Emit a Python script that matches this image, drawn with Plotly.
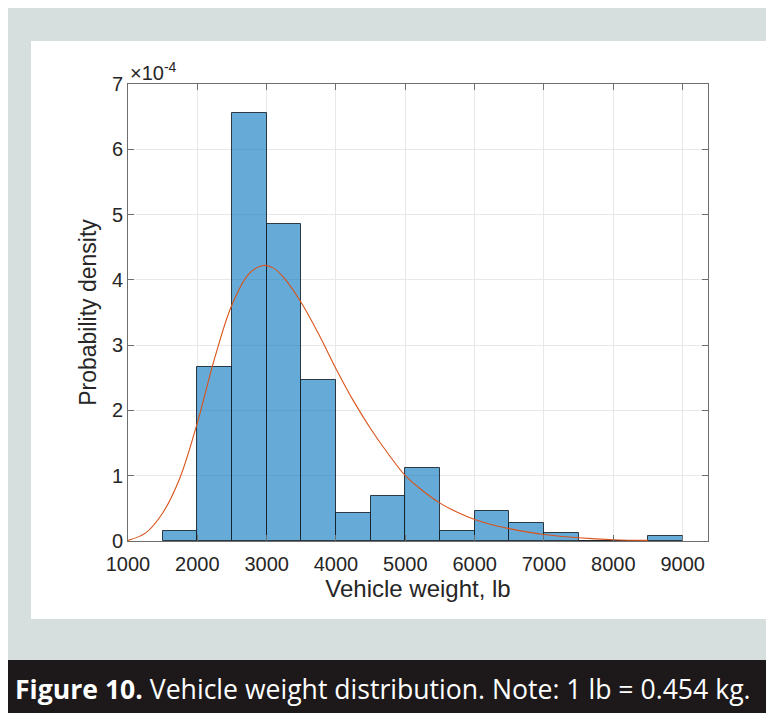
import plotly.graph_objects as go

# ---- data (density values in units of 1e-4) ----
bin_edges_left = [1500, 2000, 2500, 3000, 3500, 4000, 4500, 5000, 5500, 6000, 6500, 7000, 7500, 8000, 8500]
bin_width = 500
density = [0.15, 2.67, 6.56, 4.86, 2.47, 0.43, 0.69, 1.12, 0.15, 0.46, 0.28, 0.12, 0.0, 0.0, 0.07]

fit_x = [1000, 1250, 1500, 1750, 2000, 2250, 2500, 2750, 2950, 3100, 3250, 3500, 3750, 4000,
         4250, 4500, 4750, 5000, 5250, 5500, 5750, 6000, 6250, 6500, 6750, 7000, 7500, 8000, 8500]
fit_y = [0.01, 0.12, 0.43, 0.97, 1.81, 2.80, 3.62, 4.10, 4.22, 4.18, 4.03, 3.65, 3.17, 2.64,
         2.15, 1.72, 1.34, 1.00, 0.77, 0.58, 0.44, 0.33, 0.25, 0.19, 0.14, 0.10, 0.05, 0.02, 0.01]

x_ticks = [1000, 2000, 3000, 4000, 5000, 6000, 7000, 8000, 9000]
y_ticks = [0, 1, 2, 3, 4, 5, 6, 7]

# the page places the figure 8px from the top-left corner
OFF = 8
W, H = 774 - OFF, 713 - OFF
L, R, T, B = 120, 66, 76, 172
pw, ph = W - L - R, H - T - B

def px(x):  # page x -> paper
    return (x - OFF - L) / pw

def py(y):  # page y -> paper
    return (H - B - (y - OFF)) / ph

fig = go.Figure()
fig.add_trace(go.Bar(
    x=[e + bin_width / 2 for e in bin_edges_left], y=density, width=bin_width,
    marker=dict(color="rgba(0,114,189,0.6)", line=dict(color="rgba(20,30,40,0.85)", width=1)),
    showlegend=False, hoverinfo="skip"))
fig.add_trace(go.Scatter(
    x=fit_x, y=fit_y, mode="lines", line=dict(color="#D95319", width=1.1, shape="spline"),
    showlegend=False, hoverinfo="skip"))

tickfont = dict(family="Liberation Sans, Arial", size=20, color="#262626")
fig.update_xaxes(
    range=[1000, 9366], tickvals=x_ticks, ticktext=[str(v) for v in x_ticks],
    showgrid=True, gridcolor="#e8e8e8", gridwidth=1, zeroline=False,
    showline=True, linecolor="#6e6e6e", linewidth=1, mirror="ticks",
    ticks="inside", ticklen=6, tickcolor="#6e6e6e", tickfont=tickfont, ticklabelstandoff=5,
    title=dict(text="Vehicle weight, lb", font=dict(family="Liberation Sans, Arial", size=24, color="#262626"), standoff=3))
fig.update_yaxes(
    range=[0, 7], tickvals=y_ticks, ticktext=[str(v) for v in y_ticks],
    showgrid=True, gridcolor="#e8e8e8", gridwidth=1, zeroline=False,
    showline=True, linecolor="#6e6e6e", linewidth=1, mirror="ticks",
    ticks="inside", ticklen=6, tickcolor="#6e6e6e", tickfont=tickfont,
    title=dict(text="Probability density", font=dict(family="Liberation Sans, Arial", size=23, color="#262626"), standoff=8))

shapes = [
    dict(type="rect", xref="paper", yref="paper", x0=px(0), x1=px(790), y0=py(660), y1=py(0),
         fillcolor="#d6dfdd", line=dict(width=0), layer="below"),
    dict(type="rect", xref="paper", yref="paper", x0=px(0), x1=px(790), y0=py(730), y1=py(660),
         fillcolor="#1d191a", line=dict(width=0), layer="below"),
    dict(type="rect", xref="paper", yref="paper", x0=px(31), x1=px(767), y0=py(619), y1=py(41),
         fillcolor="#ffffff", line=dict(width=0), layer="below"),
]

annotations = [
    dict(text="×10<sup>-4</sup>", xref="paper", yref="paper", x=px(128), y=py(72),
         xanchor="left", yanchor="middle", showarrow=False,
         font=dict(family="Liberation Sans, Arial", size=20, color="#262626")),
    dict(text="<b>Figure 10.</b> Vehicle weight distribution. Note: 1 lb = 0.454 kg.",
         xref="paper", yref="paper", x=px(13), y=py(689), xanchor="left", yanchor="middle",
         showarrow=False, font=dict(family="Open Sans", size=26.6, color="#ffffff")),
]

fig.update_layout(
    width=W, height=H, margin=dict(l=L, r=R, t=T, b=B, autoexpand=False),
    paper_bgcolor="#d6dfdd", plot_bgcolor="#ffffff",
    bargap=0, shapes=shapes, annotations=annotations,
)

fig.write_html("out.html")
